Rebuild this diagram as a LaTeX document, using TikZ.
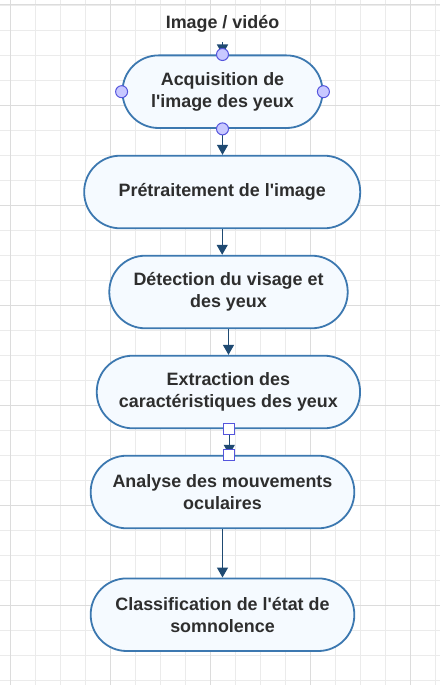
\documentclass[tikz,border=0pt]{standalone}
\usepackage{fontspec}
\setmainfont{Liberation Sans}[Ligatures=TeXOff]
\usetikzlibrary{arrows.meta}
\definecolor{bordc}{HTML}{3C78B0}
\definecolor{fillc}{HTML}{F5FAFF}
\definecolor{arrc}{HTML}{1F4A72}
\definecolor{textc}{HTML}{2E2E2E}
\definecolor{gridminor}{HTML}{EBEBEB}
\definecolor{gridmajor}{HTML}{DCDCDC}
\definecolor{hfill}{HTML}{C8C8FF}
\definecolor{hdraw}{HTML}{5555DD}
\tikzset{
  flowbox/.style={draw=bordc, fill=fillc, line width=1.8pt, rounded corners=36pt,
    minimum height=72.6pt, align=center, text=textc, inner sep=0pt,
    font=\bfseries\fontsize{17.9}{21.7}\selectfont},
  conn/.style={draw=arrc, line width=1.4pt, -{Triangle[width=11pt,length=10pt]}},
  hcircle/.style={circle, fill=hfill, draw=hdraw, line width=1pt, minimum size=12pt, inner sep=0pt},
  hsquare/.style={rectangle, fill=white, draw=hdraw, line width=1pt, minimum size=11pt, inner sep=0pt},
  gminor/.style={draw=gridminor, line width=0.8pt},
  gmajor/.style={draw=gridmajor, line width=1pt}
}
\begin{document}
\begin{tikzpicture}[x=1pt,y=-1pt]
\fill[white] (0,0) rectangle (440,685);
\useasboundingbox (0,0) rectangle (440,685);
\foreach \x in {10,35,...,435} \draw[gminor] (\x,0) -- (\x,685);
\foreach \y in {5,30,...,680} \draw[gminor] (0,\y) -- (440,\y);
\foreach \x in {10,110,...,410} \draw[gmajor] (\x,0) -- (\x,685);
\foreach \y in {5,105,...,605} \draw[gmajor] (0,\y) -- (440,\y);

\node[text=textc, font=\bfseries\fontsize{17.9}{21.7}\selectfont] (src) at (222.5,23.5) {Image / vidéo};
\coordinate (srcend) at (222.5,42);

\node[flowbox, minimum width=200pt] (acq) at (222.5,91.7) {Acquisition de\\l'image des yeux};
\node[flowbox, minimum width=276pt] (pre) at (222.2,192) {Prétraitement de l'image};
\node[flowbox, minimum width=238.4pt] (det) at (228.5,292) {Détection du visage et\\des yeux};
\node[flowbox, minimum width=263.3pt] (ext) at (228.4,392) {Extraction des\\caractéristiques des yeux};
\node[flowbox, minimum width=263.6pt] (ana) at (222.5,492) {Analyse des mouvements\\oculaires};
\node[flowbox, minimum width=263.6pt] (cla) at (222.5,614.7) {Classification de l'état de\\somnolence};

\draw[conn] (srcend) -- (acq.north);
\draw[conn] (acq.south) -- (acq.south |- pre.north);
\draw[conn] (pre.south) -- (pre.south |- det.north);
\draw[conn] (det.south) -- (det.south |- ext.north);
\draw[conn] ([xshift=0.9pt]ext.south) -- ([xshift=0.9pt]ext.south |- ana.north);
\draw[conn] (ana.south) -- (cla.north);

\node[hcircle] (hn) at (acq.north) {};
\node[hcircle] (hs) at (acq.south) {};
\node[hcircle] (hw) at (acq.west) {};
\node[hcircle] (he) at (acq.east) {};
\node[hsquare] (sq1) at ([xshift=0.9pt]ext.south) {};
\node[hsquare] (sq2) at ([xshift=0.9pt]ext.south |- ana.north) {};
\end{tikzpicture}
\end{document}
